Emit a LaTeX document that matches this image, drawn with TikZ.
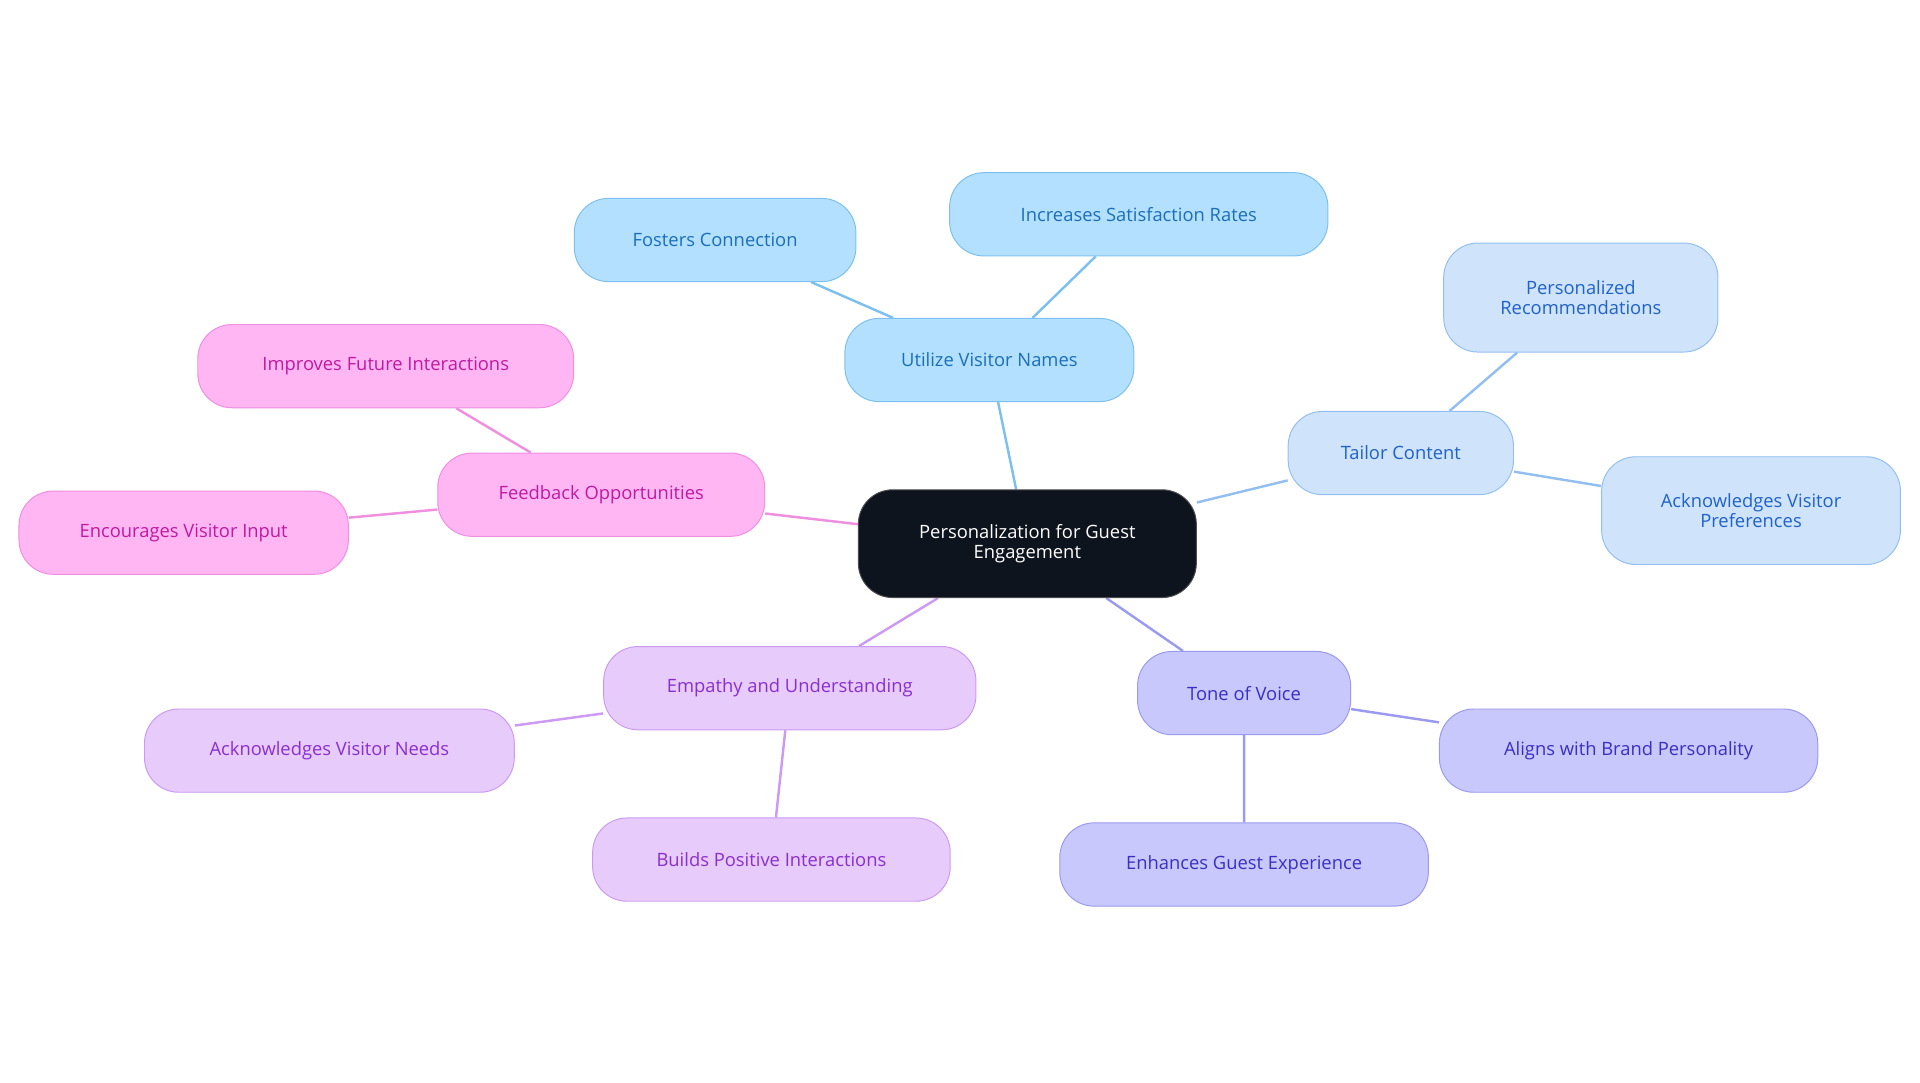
\documentclass[tikz,border=0pt]{standalone}
\usepackage{fontspec}
\setmainfont{Open Sans}
\usetikzlibrary{backgrounds}
\definecolor{bF}{HTML}{B3E0FF}\definecolor{bS}{HTML}{7CC0F0}\definecolor{bT}{HTML}{1A6FB8}
\definecolor{tF}{HTML}{CFE3FB}\definecolor{tS}{HTML}{93BFF0}\definecolor{tT}{HTML}{1F62C8}
\definecolor{pF}{HTML}{FFB6F3}\definecolor{pS}{HTML}{F08EE0}\definecolor{pT}{HTML}{BF1AA0}
\definecolor{vF}{HTML}{E6CBFB}\definecolor{vS}{HTML}{CC9AF2}\definecolor{vT}{HTML}{8A2FCF}
\definecolor{iF}{HTML}{C8C8FD}\definecolor{iS}{HTML}{9A9AF0}\definecolor{iT}{HTML}{3A2FC2}
\definecolor{cF}{HTML}{0D141D}
\tikzset{
 base/.style={rounded corners=28pt,align=center,font=\fontsize{15}{17}\selectfont,line width=0.8pt,inner sep=0pt},
 nb/.style n args={3}{base,draw=#2,fill=#1,text=#3,minimum height=68pt},
 blue/.style={nb={bF}{bS}{bT},minimum width=#1},
 tail/.style={nb={tF}{tS}{tT},minimum width=#1},
 pink/.style={nb={pF}{pS}{pT},minimum width=#1},
 vio/.style={nb={vF}{vS}{vT},minimum width=#1},
 ind/.style={nb={iF}{iS}{iT},minimum width=#1},
 e/.style={line width=2pt,draw=#1}
}
\begin{document}
\begin{tikzpicture}[x=1pt,y=-1pt]
\useasboundingbox (0,0) rectangle (1568,884);
\node[base,fill=cF,draw=black!70,text=white,minimum width=276pt,minimum height=88pt] (c) at (839,444) {Personalization for Guest\\Engagement};
\node[blue=236pt] (u) at (808,294) {Utilize Visitor Names};
\node[blue=230pt] (u1) at (584,196) {Fosters Connection};
\node[blue=309pt] (u2) at (930,175) {Increases Satisfaction Rates};
\node[tail=184pt] (t) at (1144,370) {Tailor Content};
\node[tail=224pt,minimum height=89pt] (t1) at (1291,243) {Personalized\\Recommendations};
\node[tail=244pt,minimum height=88pt] (t2) at (1430,417) {Acknowledges Visitor\\Preferences};
\node[pink=267pt] (f) at (491,404) {Feedback Opportunities};
\node[pink=307pt] (f1) at (315,299) {Improves Future Interactions};
\node[pink=269pt] (f2) at (150,435) {Encourages Visitor Input};
\node[vio=304pt] (m) at (645,562) {Empathy and Understanding};
\node[vio=302pt] (m1) at (269,613) {Acknowledges Visitor Needs};
\node[vio=292pt] (m2) at (630,702) {Builds Positive Interactions};
\node[ind=174pt] (o) at (1016,566) {Tone of Voice};
\node[ind=309pt] (o1) at (1330,613) {Aligns with Brand Personality};
\node[ind=301pt] (o2) at (1016,706) {Enhances Guest Experience};
\begin{scope}[on background layer]
\draw[e=bS] (c)--(u) (u)--(u1) (u)--(u2);
\draw[e=tS] (c)--(t) (t)--(t1) (t)--(t2);
\draw[e=pS] (c)--(f) (f)--(f1) (f)--(f2);
\draw[e=vS] (c)--(m) (m)--(m1) (m)--(m2);
\draw[e=iS] (c)--(o) (o)--(o1) (o)--(o2);
\end{scope}
\end{tikzpicture}
\end{document}
